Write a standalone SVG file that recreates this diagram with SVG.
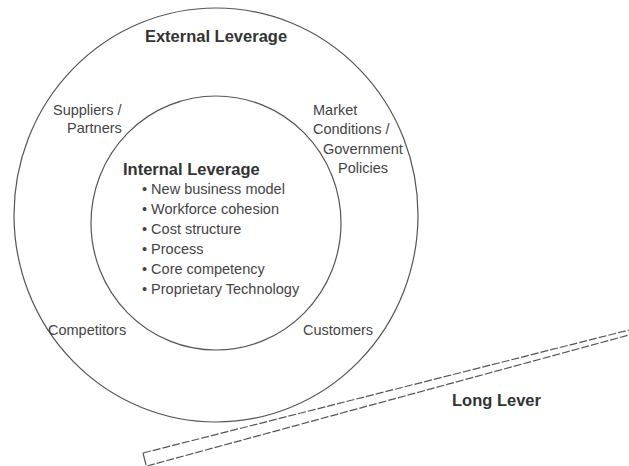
<svg xmlns="http://www.w3.org/2000/svg" width="629" height="466" viewBox="0 0 629 466">
  <style>
    .ring { fill: none; stroke: #555; stroke-width: 1.2; }
    .lever { fill: none; stroke: #555; stroke-width: 1.2; stroke-dasharray: 8 2; }
    .title { font-family: "Liberation Sans", Arial, sans-serif; font-size: 16.5px; font-weight: bold; fill: #333; }
    .label { font-family: "Liberation Sans", Arial, sans-serif; font-size: 14.5px; fill: #444; }
  </style>
  <rect width="629" height="466" fill="#fff"/>
  <g id="external-leverage">
    <ellipse class="ring" cx="216" cy="215" rx="202" ry="207"/>
    <text class="title" x="216" y="42" text-anchor="middle">External Leverage</text>
  </g>
  <g id="internal-leverage">
    <ellipse class="ring" cx="216" cy="223" rx="125" ry="127"/>
    <text class="title" x="123" y="175">Internal Leverage</text>
    <text class="label" x="142" y="194">• New business model</text>
    <text class="label" x="142" y="214">• Workforce cohesion</text>
    <text class="label" x="142" y="234">• Cost structure</text>
    <text class="label" x="142" y="254">• Process</text>
    <text class="label" x="142" y="274">• Core competency</text>
    <text class="label" x="142" y="294">• Proprietary Technology</text>
  </g>
  <g id="suppliers">
    <text class="label" x="53" y="115">Suppliers /</text>
    <text class="label" x="67" y="133">Partners</text>
  </g>
  <g id="market">
    <text class="label" x="313" y="115">Market</text>
    <text class="label" x="313" y="134">Conditions /</text>
    <text class="label" x="323" y="154">Government</text>
    <text class="label" x="338" y="173">Policies</text>
  </g>
  <g id="competitors">
    <text class="label" x="48" y="335">Competitors</text>
  </g>
  <g id="customers">
    <text class="label" x="303" y="335">Customers</text>
  </g>
  <g id="long-lever">
    <line class="lever" x1="143" y1="453" x2="629" y2="330"/>
    <line class="lever" x1="147" y1="466" x2="629" y2="335"/>
    <line class="ring" x1="143" y1="453" x2="146" y2="465"/>
    <text class="title" x="452" y="406">Long Lever</text>
  </g>
</svg>
